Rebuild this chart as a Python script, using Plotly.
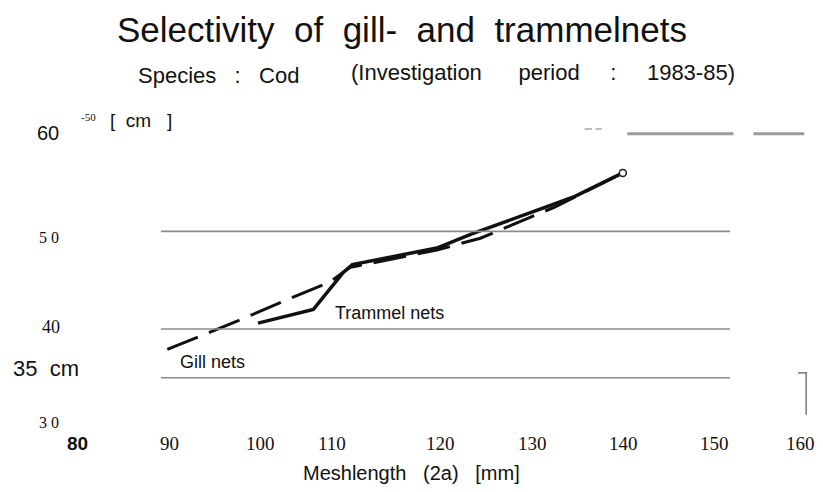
"""Selectivity of gill- and trammelnets (cod, 1983-85), redrawn with Plotly."""

import plotly.graph_objects as go

# --- data ----------------------------------------------------------------
GILL_MESH = [89.7, 97.9, 102.9, 107.6, 109.8, 119.4, 124.2, 132.4, 139.9]
GILL_LEN = [37.9, 41.0, 43.0, 44.8, 46.3, 48.1, 49.3, 52.5, 56.0]

TRAMMEL_MESH = [99.7, 105.8, 109.1, 110.1, 119.4, 123.4, 134.4, 139.9]
TRAMMEL_LEN = [40.6, 42.0, 45.8, 46.6, 48.3, 49.8, 53.5, 56.0]

GRID_LEVELS = [50, 40, 35]
GRID_SPAN = [89.0, 151.7]

# x tick labels as printed (110 sits a little off in the scan)
X_TICK_TEXT = ["80", "90", "100", "110", "120", "130", "140", "150", "160"]
X_TICK_POS = [79.8, 90.0, 100.0, 107.9, 119.8, 130.0, 140.0, 150.0, 159.5]

# y tick labels as printed, with the level each one sits at
Y_TICK_TEXT = ["60", "5 0", "40", "35\u00a0 cm", "3 0"]
Y_TICK_VAL = [60.1, 49.4, 40.2, 35.9, 30.4]

SANS = "Liberation Sans, Arial, sans-serif"
SERIF = "Liberation Serif, Times New Roman, serif"

# browser body margin shifts the figure by 8 px; ranges absorb it so data
# units land where they sit on the scan
PAGE_OFF = 8
X_RANGE = [72.15, 162.84]
Y_RANGE = [22.47, 72.90]


def px_x(px):
    return (px - PAGE_OFF) / 823


def px_y(py):
    return 1 - (py - PAGE_OFF) / 492


fig = go.Figure()

for level in GRID_LEVELS:
    fig.add_shape(
        type="line", xref="x", yref="y",
        x0=GRID_SPAN[0], x1=GRID_SPAN[1], y0=level, y1=level,
        line={"color": "#8c8c8c", "width": 1.6},
    )

# scan remnants of the 60 cm line at top right
for x0, x1, yv, w in [(135.7, 136.5, 60.5, 1.3), (136.9, 137.6, 60.5, 1.3),
                      (140.4, 152.1, 60.0, 3), (154.3, 159.9, 60.0, 3)]:
    fig.add_shape(
        type="line", xref="x", yref="y", x0=x0, x1=x1, y0=yv, y1=yv,
        line={"color": "#9a9a9a", "width": w},
    )

# small marker at the right edge
fig.add_shape(type="line", xref="x", yref="y", x0=160.1, x1=160.1, y0=31.2, y1=35.6,
              line={"color": "#7a7a7a", "width": 1.5})
fig.add_shape(type="line", xref="x", yref="y", x0=159.2, x1=160.2, y0=35.5, y1=35.5,
              line={"color": "#7a7a7a", "width": 1.5})

fig.add_trace(
    go.Scatter(
        x=TRAMMEL_MESH, y=TRAMMEL_LEN, mode="lines", name="Trammel nets",
        line={"color": "#111111", "width": 3.5},
    )
)
fig.add_trace(
    go.Scatter(
        x=GILL_MESH, y=GILL_LEN, mode="lines", name="Gill nets",
        line={"color": "#111111", "width": 3, "dash": "33px,12px"},
    )
)
fig.add_trace(
    go.Scatter(
        x=[GILL_MESH[-1]], y=[GILL_LEN[-1]], mode="markers", showlegend=False,
        marker={"color": "white", "size": 7, "line": {"color": "#222222", "width": 1.5}},
    )
)

annotations = []
for text, pos in zip(X_TICK_TEXT, X_TICK_POS):
    first = text == "80"
    annotations.append(dict(
        x=pos, y=px_y(443), xref="x", yref="paper",
        text=f"<b>{text}</b>" if first else text, showarrow=False,
        font={"family": SANS if first else SERIF, "size": 19, "color": "#111111"},
        xanchor="center", yanchor="middle",
    ))

y_label_style = [
    (48, SANS, 20), (49, SERIF, 16), (51, SERIF, 18), (46, SANS, 22), (49, SERIF, 16),
]
for text, val, (xc, family, size) in zip(Y_TICK_TEXT, Y_TICK_VAL, y_label_style):
    annotations.append(dict(
        x=px_x(xc), y=val, xref="paper", yref="y", text=text, showarrow=False,
        font={"family": family, "size": size, "color": "#111111"},
        xanchor="center", yanchor="middle",
    ))

annotations += [
    dict(x=px_x(88), y=px_y(117), xref="paper", yref="paper", text="-50",
         showarrow=False, font={"family": SERIF, "size": 11, "color": "#111111"},
         xanchor="center", yanchor="middle"),
    dict(x=px_x(141), y=px_y(120), xref="paper", yref="paper",
         text="[\u00a0 cm\u00a0\u00a0 ]", showarrow=False,
         font={"family": SANS, "size": 19, "color": "#111111"},
         xanchor="center", yanchor="middle"),
    dict(x=px_x(402), y=px_y(30), xref="paper", yref="paper",
         text="Selectivity\u00a0 of\u00a0 gill-\u00a0 and\u00a0 trammelnets", showarrow=False,
         font={"family": SANS, "size": 35, "color": "#111111"},
         xanchor="center", yanchor="middle"),
    dict(x=px_x(136), y=px_y(75), xref="paper", yref="paper",
         text="Species\u00a0\u00a0 :\u00a0\u00a0 Cod", showarrow=False,
         font={"family": SANS, "size": 22, "color": "#111111"},
         xanchor="left", yanchor="middle"),
    dict(x=px_x(737), y=px_y(73), xref="paper", yref="paper",
         text="(Investigation\u00a0\u00a0\u00a0\u00a0\u00a0 period\u00a0\u00a0\u00a0\u00a0 :"
              "\u00a0\u00a0\u00a0\u00a0 1983-85)",
         showarrow=False, font={"family": SANS, "size": 22, "color": "#111111"},
         xanchor="right", yanchor="middle"),
    dict(x=px_x(411), y=px_y(473), xref="paper", yref="paper",
         text="Meshlength\u00a0\u00a0 (2a)\u00a0\u00a0 [mm]", showarrow=False,
         font={"family": SANS, "size": 20, "color": "#111111"},
         xanchor="center", yanchor="middle"),
    dict(x=px_x(333), y=px_y(313), xref="paper", yref="paper",
         text="Trammel nets", showarrow=False,
         font={"family": SANS, "size": 18, "color": "#111111"},
         xanchor="left", yanchor="middle"),
    dict(x=px_x(178), y=px_y(362), xref="paper", yref="paper",
         text="Gill nets", showarrow=False,
         font={"family": SANS, "size": 18, "color": "#111111"},
         xanchor="left", yanchor="middle"),
]

fig.update_layout(
    width=823,
    height=492,
    margin={"l": 0, "r": 0, "t": 0, "b": 0},
    paper_bgcolor="white",
    plot_bgcolor="white",
    showlegend=False,
    annotations=annotations,
    xaxis={"range": X_RANGE, "visible": False, "fixedrange": True},
    yaxis={"range": Y_RANGE, "visible": False, "fixedrange": True},
)

fig.write_html("out.html")
